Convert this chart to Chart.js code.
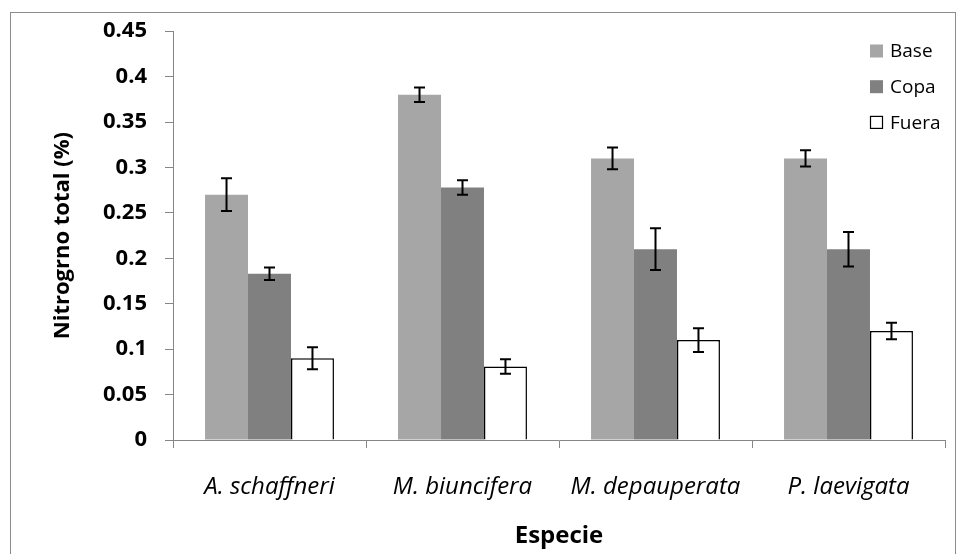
<!DOCTYPE html>
<html>
<head>
<meta charset="utf-8">
<script src="https://cdn.jsdelivr.net/npm/chart.js@4.4.0/dist/chart.umd.min.js"></script>
<style>
html, body { margin: 0; padding: 0; background: #fff; }
#wrap { width: 961px; height: 554px; position: relative; }
</style>
</head>
<body>
<div id="wrap"><canvas id="canvNitro"></canvas></div>
<script>
// species on the x axis
const especies = ['A. schaffneri', 'M. biuncifera', 'M. depauperata', 'P. laevigata'];

// total nitrogen (%) per position
const base  = [0.27, 0.38, 0.31, 0.31];
const copa  = [0.183, 0.278, 0.21, 0.21];
const fuera = [0.09, 0.081, 0.11, 0.12];

// error bar half-lengths
const errBase  = [0.018, 0.008, 0.012, 0.009];
const errCopa  = [0.007, 0.008, 0.023, 0.019];
const errFuera = [0.012, 0.008, 0.013, 0.009];

const fontFam = '"Open Sans", "DejaVu Sans", sans-serif';

// outer frame round the whole chart
const frame = {
    id: 'frame',
    beforeDraw(chart) {
        const ctx = chart.ctx;
        ctx.save();
        ctx.strokeStyle = '#8c8c8c';
        ctx.lineWidth = 1;
        ctx.strokeRect(10.5, 12.5, 945, 600);
        ctx.restore();
    }
};

// draws the error bars from each dataset's errors array
const errorBars = {
    id: 'errorBars',
    afterDatasetsDraw(chart) {
        const ctx = chart.ctx;
        const y = chart.scales.y;
        chart.data.datasets.forEach((ds, i) => {
            chart.getDatasetMeta(i).data.forEach((bar, j) => {
                const v = ds.data[j], e = ds.errors[j];
                const top = y.getPixelForValue(v + e);
                const bot = y.getPixelForValue(v - e);
                ctx.save();
                ctx.strokeStyle = '#000';
                ctx.lineWidth = 2;
                ctx.beginPath();
                ctx.moveTo(bar.x, top); ctx.lineTo(bar.x, bot);
                ctx.moveTo(bar.x - 5.5, top); ctx.lineTo(bar.x + 5.5, top);
                ctx.moveTo(bar.x - 5.5, bot); ctx.lineTo(bar.x + 5.5, bot);
                ctx.stroke();
                ctx.restore();
            });
        });
    }
};

// legend stacked in the top right corner of the plot
const cornerLegend = {
    id: 'cornerLegend',
    afterDraw(chart) {
        const ctx = chart.ctx;
        ctx.save();
        ctx.font = '19px ' + fontFam;
        ctx.textBaseline = 'middle';
        chart.data.datasets.forEach((ds, i) => {
            const cy = 51 + i * 35.7;
            ctx.fillStyle = ds.backgroundColor;
            ctx.fillRect(870, cy - 6.5, 13, 13);
            if (ds.borderWidth) {
                ctx.strokeStyle = '#000';
                ctx.lineWidth = 1.2;
                ctx.strokeRect(870.5, cy - 6, 12, 12);
            }
            ctx.fillStyle = '#000';
            ctx.fillText(ds.label, 890, cy + 1);
        });
        ctx.restore();
    }
};

new Chart(document.getElementById('canvNitro'), {
    type: 'bar',
    data: {
        labels: especies,
        datasets: [
            { label: 'Base', data: base, errors: errBase, backgroundColor: '#a6a6a6', borderWidth: 0 },
            { label: 'Copa', data: copa, errors: errCopa, backgroundColor: '#808080', borderWidth: 0 },
            { label: 'Fuera', data: fuera, errors: errFuera, backgroundColor: '#ffffff', borderColor: '#000', borderWidth: 1.5 }
        ]
    },
    options: {
        responsive: true,
        maintainAspectRatio: false,
        animation: false,
        datasets: { bar: { categoryPercentage: 0.668, barPercentage: 1 } },
        layout: { padding: { top: 30, right: 16, left: 0, bottom: 0 } },
        plugins: { legend: { display: false }, tooltip: { enabled: false } },
        scales: {
            x: {
                afterFit: (s) => { s.height = 114; },
                grid: { drawOnChartArea: false, tickLength: 8, color: '#868686', offset: true },
                border: { color: '#868686' },
                ticks: { color: '#000', padding: 25, font: { family: fontFam, size: 24, style: 'italic' } },
                title: { display: true, text: 'Especie', color: '#000', padding: { top: 0, bottom: 3 },
                         font: { family: fontFam, size: 24, weight: 'bold' } }
            },
            y: {
                min: 0, max: 0.45,
                afterFit: (s) => { s.width = 173; },
                grid: { drawOnChartArea: false, tickLength: 8, color: '#868686' },
                border: { color: '#868686' },
                ticks: { stepSize: 0.05, color: '#000', padding: 18,
                         font: { family: fontFam, size: 22, weight: 'bold' },
                         callback: (v) => String(Number(v.toFixed(2))) },
                title: { display: true, text: 'Nitrogrno total (%)', color: '#000', padding: { top: 50, bottom: 0 },
                         font: { family: fontFam, size: 22, weight: 'bold' } }
            }
        }
    },
    plugins: [frame, errorBars, cornerLegend]
});
</script>
</body>
</html>
